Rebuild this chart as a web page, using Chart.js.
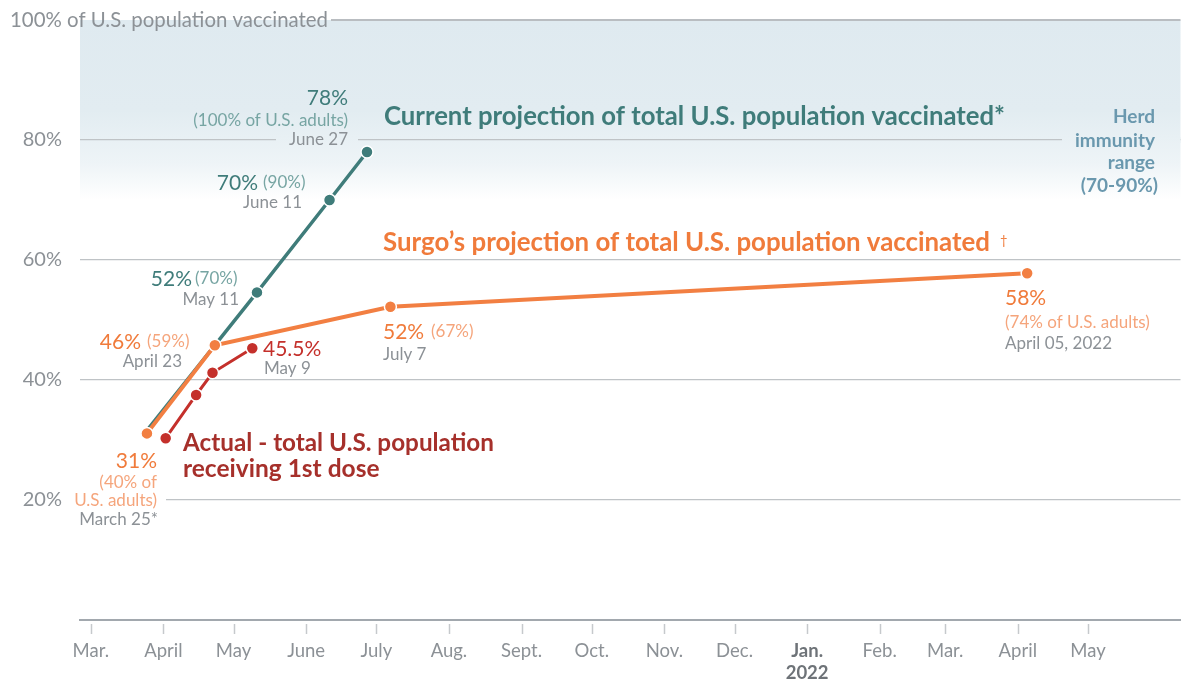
<!DOCTYPE html>
<html>
<head>
<meta charset="utf-8">
<script src="https://cdn.jsdelivr.net/npm/chart.js@4.4.1/dist/chart.umd.min.js"></script>
<style>
  html, body { margin: 0; padding: 0; background: #fff; }
  #wrap { width: 1188px; height: 682px; position: relative; }
</style>
</head>
<body>
<div id="wrap"><canvas id="chart"></canvas></div>
<script>
// days are counted from March 1, 2021
const START = '2021-03-01';
const X_MIN = -4.6;
const X_MAX = 465.5;

const monthTicks = ['2021-03-01', '2021-04-01', '2021-05-01', '2021-06-01', '2021-07-01', '2021-08-01', '2021-09-01',
  '2021-10-01', '2021-11-01', '2021-12-01', '2022-01-01', '2022-02-01', '2022-03-01', '2022-04-01', '2022-05-01'];
const monthLabels = ['Mar.', 'April', 'May', 'June', 'July', 'Aug.', 'Sept.', 'Oct.', 'Nov.', 'Dec.', ['Jan.', '2022'],
  'Feb.', 'Mar.', 'April', 'May'];

const currentDates = ['2021-03-25', '2021-05-11', '2021-06-11', '2021-06-27'];
const currentValues = [31.6, 54.6, 70, 78];

const surgoDates = ['2021-03-25', '2021-04-23', '2021-07-07', '2022-04-05'];
const surgoValues = [31.1, 45.8, 52.2, 57.8];

const actualDates = ['2021-04-02', '2021-04-15', '2021-04-22', '2021-05-09'];
const actualValues = [30.3, 37.5, 41.2, 45.3];

const TEAL = '#3f7c7a';
const TEAL_LIGHT = '#77a5a3';
const ORANGE = '#f27f42';
const ORANGE_TEXT = '#f07b3b';
const ORANGE_LIGHT = '#f5a57c';
const RED = '#c4302b';
const RED_TEXT = '#a6302b';
const GRAY = '#8c9196';
const HERD = '#6a98ae';
const FONT = 'Lato, "Open Sans", sans-serif';

const day = d => (Date.parse(d) - Date.parse(START)) / 86400000;
const toPoints = (dates, values) => dates.map((d, i) => ({ x: day(d), y: values[i] }));

// annotation texts: [text, x, y, font, color, align, maxWidth]
const notes = [
  ['78%', 348, 98, '21px', TEAL, 'right'],
  ['(100% of U.S. adults)', 348, 121, '17px', TEAL_LIGHT, 'right'],
  ['June 27', 348, 140, '17px', GRAY, 'right'],
  ['Current projection of total U.S. population vaccinated*', 384, 117, 'bold 26px', TEAL, 'left', 621],
  ['70%', 258, 183, '21px', TEAL, 'right'],
  ['(90%)', 263, 183, '17px', TEAL_LIGHT, 'left'],
  ['June 11', 302, 203, '17px', GRAY, 'right'],
  ['52%', 192, 279, '21px', TEAL, 'right'],
  ['(70%)', 195, 279, '17px', TEAL_LIGHT, 'left'],
  ['May 11', 239, 300, '17px', GRAY, 'right'],
  ['46%', 141, 342, '21px', ORANGE_TEXT, 'right'],
  ['(59%)', 147, 342, '17px', ORANGE_LIGHT, 'left'],
  ['April 23', 182, 362, '17px', GRAY, 'right'],
  ['45.5%', 263, 349, '21px', RED, 'left'],
  ['May 9', 264, 369, '17px', GRAY, 'left'],
  ['Actual - total U.S. population', 183, 443, 'bold 24.5px', RED_TEXT, 'left', 311],
  ['receiving 1st dose', 183, 469, 'bold 24.5px', RED_TEXT, 'left', 198],
  ['31%', 157, 461, '21px', ORANGE_TEXT, 'right'],
  ['(40% of', 157, 483, '17px', ORANGE_LIGHT, 'right'],
  ['U.S. adults)', 157, 501, '17px', ORANGE_LIGHT, 'right'],
  ['March 25*', 158, 520, '17px', GRAY, 'right'],
  ['Surgo\u2019s projection of total U.S. population vaccinated', 383, 243, 'bold 26px', ORANGE_TEXT, 'left', 607],
  ['\u2020', 1000, 241, '13px', ORANGE_TEXT, 'left'],
  ['52%', 383, 332, '21px', ORANGE_TEXT, 'left'],
  ['(67%)', 431, 332, '17px', ORANGE_LIGHT, 'left'],
  ['July 7', 383, 355, '17px', GRAY, 'left'],
  ['58%', 1005, 298, '21px', ORANGE_TEXT, 'left'],
  ['(74% of U.S. adults)', 1005, 323, '17px', ORANGE_LIGHT, 'left'],
  ['April 05, 2022', 1005, 344, '17px', GRAY, 'left'],
  ['Herd', 1155, 117, 'bold 19px', HERD, 'right'],
  ['immunity', 1155, 141, 'bold 19px', HERD, 'right'],
  ['range', 1155, 163, 'bold 19px', HERD, 'right'],
  ['(70-90%)', 1158, 186, 'bold 19px', HERD, 'right']
];

let bandFill = null;

const decor = {
  id: 'decor',
  beforeDraw(chart) {
    const { ctx, chartArea: a, scales: { y } } = chart;
    const top = y.getPixelForValue(100);
    const bottom = y.getPixelForValue(70);
    bandFill = ctx.createLinearGradient(0, top, 0, bottom);
    bandFill.addColorStop(0, '#dfeaf0');
    bandFill.addColorStop(0.5, '#e2ecf1');
    bandFill.addColorStop(0.8, '#eef4f7');
    bandFill.addColorStop(1, '#ffffff');
    ctx.save();
    ctx.fillStyle = bandFill;
    ctx.fillRect(a.left, top, a.right - a.left, bottom - top);
    ctx.restore();
  },
  beforeDatasetsDraw(chart) {
    const { ctx, chartArea: a, scales: { x, y } } = chart;
    ctx.save();

    // label boxes that break the grid lines
    const y80 = y.getPixelForValue(80);
    ctx.fillStyle = bandFill;
    ctx.fillRect(276, y80 - 3, 82, 6);
    ctx.fillRect(1062, y80 - 3, a.right - 1062, 6);
    ctx.fillStyle = '#fff';
    ctx.fillRect(72, y.getPixelForValue(20) - 3, 94, 6);

    // top line with its label
    const y100 = y.getPixelForValue(100);
    ctx.font = '20.4px ' + FONT;
    ctx.fillStyle = GRAY;
    ctx.textAlign = 'left';
    ctx.textBaseline = 'middle';
    const label = '100% of U.S. population vaccinated';
    ctx.fillText(label, 10, y100);
    const w = ctx.measureText(label).width;
    ctx.strokeStyle = '#b9bdc1';
    ctx.lineWidth = 2;
    ctx.beginPath();
    ctx.moveTo(10 + w + 3, y100);
    ctx.lineTo(a.right, y100);
    ctx.stroke();

    // small month ticks under the axis
    ctx.strokeStyle = '#c6c9cc';
    ctx.lineWidth = 1.5;
    x.ticks.forEach(t => {
      const px = Math.round(x.getPixelForValue(t.value)) + 0.5;
      ctx.beginPath();
      ctx.moveTo(px, a.bottom + 4);
      ctx.lineTo(px, a.bottom + 14);
      ctx.stroke();
    });

    notes.forEach(([text, nx, ny, font, color, align, maxW]) => {
      ctx.font = font + ' ' + FONT;
      ctx.fillStyle = color;
      ctx.textAlign = align;
      ctx.textBaseline = 'middle';
      if (maxW) ctx.fillText(text, nx, ny, maxW);
      else ctx.fillText(text, nx, ny);
    });
    ctx.restore();
  }
};

const pointStyle = {
  pointRadius: 6,
  pointHoverRadius: 6,
  pointBorderColor: '#fff',
  pointBorderWidth: 1.5,
  tension: 0
};

new Chart(document.getElementById('chart'), {
  type: 'line',
  data: {
    datasets: [
      { label: 'Current projection', data: toPoints(currentDates, currentValues), borderColor: TEAL, backgroundColor: TEAL,
        borderWidth: 3.5, ...pointStyle, pointRadius: c => c.dataIndex === 0 ? 0 : 6, order: 3 },
      { label: 'Surgo projection', data: toPoints(surgoDates, surgoValues), borderColor: ORANGE, backgroundColor: ORANGE,
        borderWidth: 4, ...pointStyle, order: 2 },
      { label: 'Actual', data: toPoints(actualDates, actualValues), borderColor: RED, backgroundColor: RED,
        borderWidth: 3, ...pointStyle, order: 1 }
    ]
  },
  options: {
    responsive: true,
    maintainAspectRatio: false,
    animation: false,
    layout: { padding: { top: 20, left: 0, right: 0, bottom: 0 } },
    plugins: { legend: { display: false }, tooltip: { enabled: false } },
    scales: {
      x: {
        type: 'linear',
        min: X_MIN,
        max: X_MAX,
        afterBuildTicks: s => { s.ticks = monthTicks.map(d => ({ value: day(d) })); },
        afterFit: s => { s.height = 62; },
        grid: { display: false },
        border: { display: true, color: '#a2a8ae', width: 2 },
        ticks: {
          autoSkip: false,
          maxRotation: 0,
          padding: 12,
          callback: v => monthLabels[monthTicks.findIndex(d => day(d) === v)],
          color: c => c.index === 10 ? '#6e7378' : GRAY,
          font: c => ({ family: FONT, size: 18.5, weight: c.index === 10 ? 'bold' : 'normal', lineHeight: 1.2 })
        }
      },
      y: {
        min: 0,
        max: 100,
        afterFit: s => { s.width = 80; s.paddingTop = 0; s.paddingBottom = 0; },
        grid: {
          drawTicks: false,
          color: c => (c.tick.value === 0 || c.tick.value === 100) ? 'rgba(0,0,0,0)' : '#bfc3c6',
          lineWidth: 1.2
        },
        border: { display: false },
        ticks: {
          stepSize: 20,
          padding: 18,
          color: GRAY,
          font: { family: FONT, size: 20 },
          callback: v => (v === 0 || v === 100) ? '' : v + '%'
        }
      }
    }
  },
  plugins: [decor]
});
</script>
</body>
</html>
